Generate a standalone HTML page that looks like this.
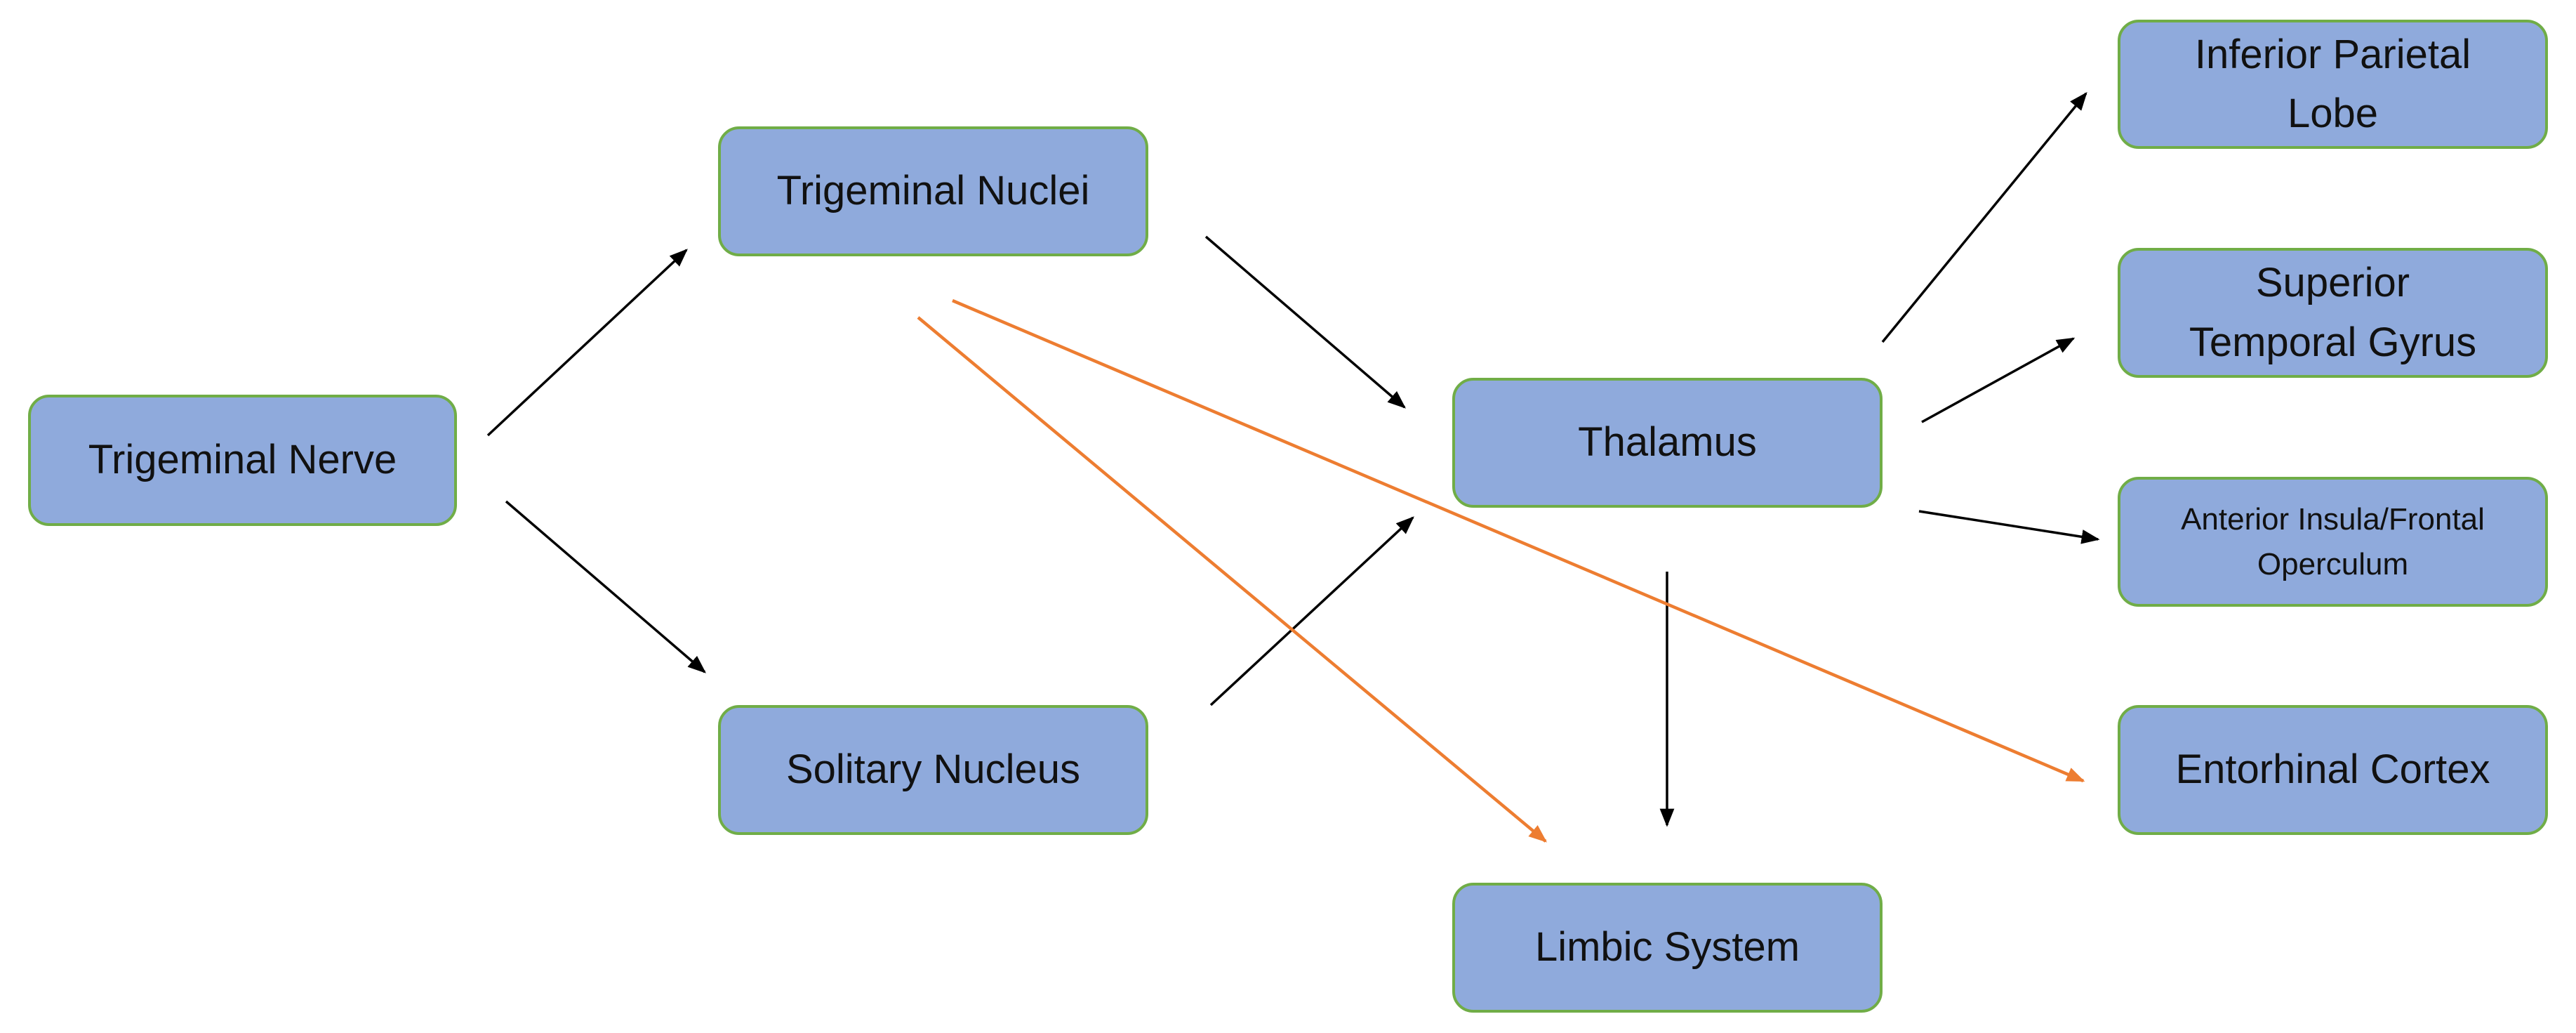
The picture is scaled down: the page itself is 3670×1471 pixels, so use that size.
<!DOCTYPE html>
<html><head><meta charset="utf-8"><style>
html,body{margin:0;padding:0;background:#fff;}
body{width:3670px;height:1471px;position:relative;overflow:hidden;font-family:"Liberation Sans",sans-serif;}
.b{position:absolute;box-sizing:border-box;background:#8faadc;border:4px solid #70ad47;border-radius:30px;display:flex;align-items:center;justify-content:center;text-align:center;font-size:58px;line-height:1.45;color:#111;}
svg{position:absolute;left:0;top:0;}
</style></head><body>
<svg width="3670" height="1471">
<defs>
<marker id="k" markerWidth="10" markerHeight="10" refX="9" refY="5" orient="auto" markerUnits="userSpaceOnUse" viewBox="0 0 10 10"><path d="M0,1 L10,5 L0,9 z" fill="#000"/></marker>
<marker id="o" viewBox="0 0 10 10" markerWidth="26" markerHeight="26" refX="9" refY="5" orient="auto" markerUnits="userSpaceOnUse"><path d="M0,1 L10,5 L0,9 z" fill="#ed7d31"/></marker>
<marker id="k2" viewBox="0 0 10 10" markerWidth="26" markerHeight="26" refX="9" refY="5" orient="auto" markerUnits="userSpaceOnUse"><path d="M0,1 L10,5 L0,9 z" fill="#000"/></marker>
</defs>
<g stroke="#000" stroke-width="3.5" marker-end="url(#k2)">
<line x1="695" y1="620" x2="978" y2="356"/>
<line x1="721" y1="714" x2="1004" y2="957"/>
<line x1="1718" y1="337" x2="2001" y2="580"/>
<line x1="1725" y1="1004" x2="2013" y2="737"/>
<line x1="2682" y1="487" x2="2972" y2="133"/>
<line x1="2738" y1="601" x2="2954" y2="482"/>
<line x1="2734" y1="728" x2="2989" y2="768"/>
<line x1="2375" y1="814" x2="2375" y2="1175"/>
</g>
<g stroke="#ed7d31" stroke-width="4.5" marker-end="url(#o)">
<line x1="1308" y1="452" x2="2202" y2="1198"/>
<line x1="1357" y1="428" x2="2968" y2="1112"/>
</g>
</svg>
<div class="b" style="left:40px;top:562px;width:611px;height:187px">Trigeminal Nerve</div>
<div class="b" style="left:1023px;top:180px;width:613px;height:185px">Trigeminal Nuclei</div>
<div class="b" style="left:1023px;top:1004px;width:613px;height:185px">Solitary Nucleus</div>
<div class="b" style="left:2069px;top:538px;width:613px;height:185px">Thalamus</div>
<div class="b" style="left:2069px;top:1257px;width:613px;height:185px">Limbic System</div>
<div class="b" style="left:3017px;top:28px;width:613px;height:184px">Inferior Parietal<br>Lobe</div>
<div class="b" style="left:3017px;top:353px;width:613px;height:185px">Superior<br>Temporal Gyrus</div>
<div class="b" style="left:3017px;top:679px;width:613px;height:185px;font-size:44px">Anterior Insula/Frontal<br>Operculum</div>
<div class="b" style="left:3017px;top:1004px;width:613px;height:185px">Entorhinal Cortex</div>
</body></html>
